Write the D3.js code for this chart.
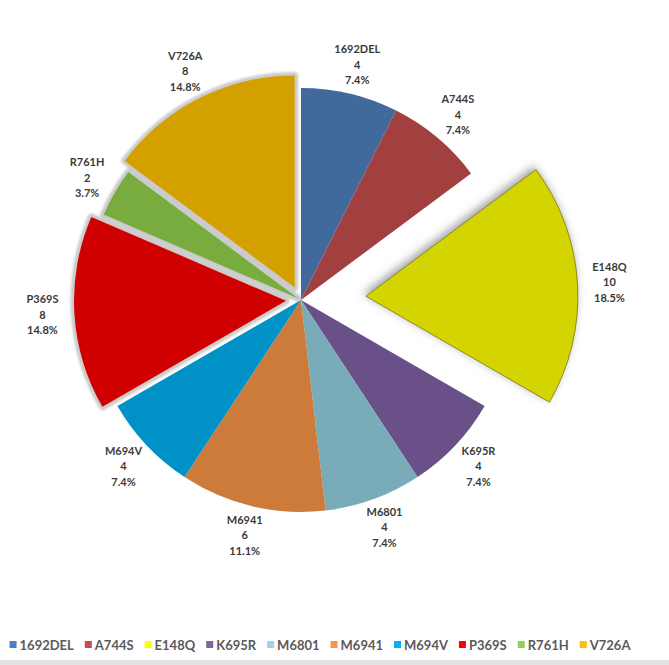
<!DOCTYPE html>
<html>
<head>
<meta charset="utf-8">
<script src="https://cdn.jsdelivr.net/npm/d3@7"></script>
<style>
	body { margin: 0; background: #fff; }
	svg { display: block; font-family: Lato, 'Open Sans', sans-serif; }
</style>
</head>
<body>
<div id="chart"></div>
<script>
const W = 669;
const H = 665;

// data
const mutations = ['1692DEL', 'A744S', 'E148Q', 'K695R', 'M6801', 'M6941', 'M694V', 'P369S', 'R761H', 'V726A'];
const counts = [4, 4, 10, 4, 4, 6, 4, 8, 2, 8];

// pie faces are shaded darker than the legend swatches
const sliceColors = ['#41699c', '#a1403e', '#d4d400', '#6a5088', '#7aabb9', '#cd7b3b', '#0092c7', '#d10000', '#78ac3f', '#d4a000'];
const legendColors = ['#4f81bd', '#c0504d', '#ffff00', '#8064a2', '#9fd4e6', '#f79646', '#00b0f0', '#ff0000', '#92d050', '#ffc000'];

// how far each slice is pulled out (px)
const explode = { E148Q: 65, P369S: 15, R761H: 3, V726A: 14 };
const haloed = ['P369S', 'R761H', 'V726A'];

const cx = 301;
const cy = 300;
const R = 212;
const LABEL_GAP = 8;
const LINE_H = 15.5;

const total = d3.sum(counts);
const rows = mutations.map((m, i) => ({ name: m, value: counts[i], i }));

const svg = d3.select('#chart').append('svg')
	.attr('width', W)
	.attr('height', H);

const defs = svg.append('defs');
const shadow = defs.append('filter')
	.attr('id', 'shade')
	.attr('x', '-20%').attr('y', '-20%')
	.attr('width', '140%').attr('height', '140%');
shadow.append('feDropShadow')
	.attr('dx', -2).attr('dy', -3)
	.attr('stdDeviation', 4)
	.attr('flood-color', '#555')
	.attr('flood-opacity', 0.55);

defs.append('filter')
	.attr('id', 'soft')
	.append('feGaussianBlur')
	.attr('stdDeviation', 1);

const pie = d3.pie()
	.sort(null)
	.value(d => d.value);

const arcs = pie(rows);
const arc = d3.arc().innerRadius(0).outerRadius(R);

function mid(d) { return (d.startAngle + d.endAngle) / 2; }
function shift(d) {
	const k = explode[d.data.name] || 0;
	const a = mid(d);
	return [k * Math.sin(a), -k * Math.cos(a)];
}

const g = svg.append('g').attr('transform', `translate(${cx},${cy})`);

// grey halo under the pulled-out slices
g.append('g')
	.attr('filter', 'url(#soft)')
	.selectAll('path')
	.data(arcs.filter(d => haloed.includes(d.data.name)))
	.join('path')
	.attr('transform', d => `translate(${shift(d)})`)
	.attr('d', arc)
	.attr('fill', '#cbcbcb')
	.attr('stroke', '#cbcbcb')
	.attr('stroke-width', 7)
	.attr('stroke-linejoin', 'round');

g.append('g').selectAll('path')
	.data(arcs)
	.join('path')
	.attr('transform', d => `translate(${shift(d)})`)
	.attr('d', arc)
	.attr('fill', d => sliceColors[d.data.i])
	.attr('stroke', d => d.data.name === 'E148Q' ? '#77770a' : 'none')
	.attr('stroke-width', 0.8)
	.attr('filter', d => d.data.name === 'E148Q' ? 'url(#shade)' : null);

// labels just outside each slice, box pushed out along the mid angle
const fmt = d3.format('.1f');
g.append('g')
	.attr('font-size', 11)
	.attr('font-weight', 700)
	.attr('fill', '#3a3a3a')
	.attr('text-anchor', 'middle')
	.selectAll('text')
	.data(arcs)
	.join('text')
	.each(function(d) {
		const a = mid(d);
		const ux = Math.sin(a);
		const uy = -Math.cos(a);
		const [sx, sy] = shift(d);
		const lx = sx + (R + LABEL_GAP) * ux + 24 * ux;
		const ly = sy + (R + LABEL_GAP) * uy + 22 * uy;
		const t = d3.select(this);
		const lines = [d.data.name, d.data.value, fmt(d.data.value / total * 100) + '%'];
		lines.forEach((s, j) => {
			t.append('tspan')
				.attr('x', lx)
				.attr('y', ly + (j - 1) * LINE_H + 4)
				.text(s);
		});
	});

// legend
const legend = svg.append('g')
	.attr('font-size', 13)
	.attr('font-weight', 700)
	.attr('fill', '#5a5a5a');

const items = legend.selectAll('g')
	.data(rows)
	.join('g');

items.append('rect')
	.attr('width', 7)
	.attr('height', 7)
	.attr('y', -4)
	.attr('fill', d => legendColors[d.i]);

items.append('text')
	.attr('x', 10)
	.attr('y', 4.5)
	.text(d => d.name);

let x = 0;
const widths = [];
items.each(function() {
	const w = d3.select(this).select('text').node().getComputedTextLength() + 10;
	widths.push(w);
});
const gap = 11;
const legendW = d3.sum(widths) + gap * (widths.length - 1);
const x0 = 320 - legendW / 2;
items.attr('transform', (d, i) => {
	const tx = x0 + x;
	x += widths[i] + gap;
	return `translate(${tx},645)`;
});

svg.append('rect')
	.attr('x', 0)
	.attr('y', 660)
	.attr('width', W)
	.attr('height', 5)
	.attr('fill', '#e3e3e3');
</script>
</body>
</html>
